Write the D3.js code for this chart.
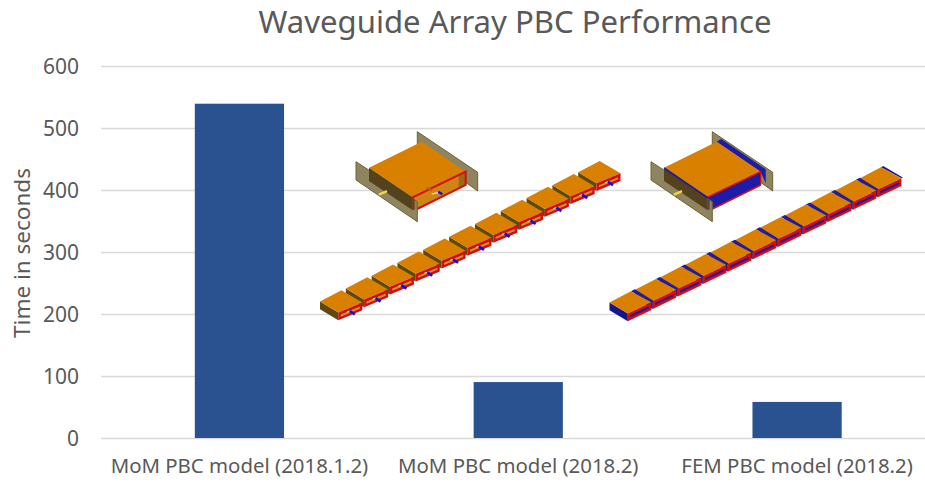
<!DOCTYPE html>
<html>
<head>
<meta charset="utf-8">
<script src="https://cdnjs.cloudflare.com/ajax/libs/d3/7.8.5/d3.min.js"></script>
<style>
html,body{margin:0;padding:0;background:#fff;overflow:hidden}
svg{display:block}
text{font-family:"Noto Sans","Open Sans",sans-serif;fill:#595959}
</style>
</head>
<body>
<svg id="chart" width="925" height="482"></svg>
<script>
const categories = ["MoM PBC model (2018.1.2)", "MoM PBC model (2018.2)", "FEM PBC model (2018.2)"];
const timeSeconds = [540, 91, 59];
const yTicks = [0, 100, 200, 300, 400, 500, 600];
const titleText = "Waveguide Array PBC Performance";
const yAxisLabel = "Time in seconds";
const arrayCellCount = 11;

const svg = d3.select("#chart");
const y = d3.scaleLinear().domain([0, 600]).range([438.5, 66.5]);
const x = d3.scaleBand().domain(categories).range([100, 936.5]).paddingInner(0.68).paddingOuter(0.34);

const yAxis = d3.axisLeft(y).tickValues(yTicks).tickSize(0).tickPadding(22);
const yG = svg.append("g").attr("transform", "translate(101,0)").call(yAxis);
yG.select(".domain").remove();
yG.selectAll("text").style("font-size", "21px").style("font-family", null);
svg.append("g").selectAll("line").data(yTicks).join("line")
  .attr("x1", 101).attr("x2", 925)
  .attr("y1", d => y(d)).attr("y2", d => y(d))
  .attr("stroke", "#d9d9d9").attr("stroke-width", 1.6);

svg.append("g").selectAll("rect").data(categories).join("rect")
  .attr("x", d => x(d)).attr("width", x.bandwidth())
  .attr("y", (d, i) => y(timeSeconds[i]))
  .attr("height", (d, i) => y(0) - y(timeSeconds[i]) - 0.5)
  .attr("fill", "#2a5190");

const xAxis = d3.axisBottom(x).tickSize(0).tickPadding(20);
const xG = svg.append("g").attr("transform", "translate(0,438.5)").call(xAxis);
xG.select(".domain").remove();
xG.selectAll("text").style("font-size", "20.4px").style("font-family", null);

svg.append("text").attr("x", 515).attr("y", 33).attr("text-anchor", "middle")
  .style("font-size", "31.1px").text(titleText);
svg.append("text").attr("transform", "translate(30,253) rotate(-90)").attr("text-anchor", "middle")
  .style("font-size", "22.5px").text(yAxisLabel);

const defs = svg.append("defs");
defs.append("filter").attr("id", "soft").append("feGaussianBlur").attr("stdDeviation", 0.5);
const art = svg.append("g").attr("filter", "url(#soft)");
const orange = "#d98000", red = "#d60d0d", blue = "#1a1aa8", olive = "#8f8460", dark = "#52431c", brown = "#5c4a12";
const path = d3.line();
const add = (p, d, s = 1) => [p[0] + d[0] * s, p[1] + d[1] * s];
const lerp = (a, b, t) => [a[0] + (b[0] - a[0]) * t, a[1] + (b[1] - a[1]) * t];
const poly = (pts, fill, stroke, sw) => art.append("path").attr("d", path(pts) + "Z")
  .attr("fill", fill).attr("stroke", stroke || "none").attr("stroke-width", sw || 0);
const seg = (a, b, stroke, sw) => art.append("path").attr("d", path([a, b]))
  .attr("fill", "none").attr("stroke", stroke).attr("stroke-width", sw);

function unitCell(o, isFem) {
  const L = o, T = add(o, [52.7, -26]), R = add(o, [96.7, 4]), B = add(o, [43.7, 29.6]);
  const R2 = add(R, [0, 13.3]), B2 = add(B, [2.6, 12.7]), L2 = add(L, [0, 13.2]);
  poly([add(o, [48.3, -36]), add(o, [108.7, 4.6]), add(o, [108.7, 23.3]), add(o, [48.3, -20])], olive, "#6e6230", 1);
  if (isFem) {
    poly([T, add(T, [4.5, -2.8]), add(R, [5, -2.5]), add(R, [5, 11.5]), R], blue);
    poly([L, T, R, B], orange);
    poly([B, R, R2, B2], blue);
    seg(B, R, red, 1.6); seg(B2, R2, red, 1.6);
    seg(R, R2, red, 1.2);
  } else {
    poly([L, T, R, B], orange);
    poly([B, R, R2, B2], "#cf8418");
    poly([add(R, [-7, 3]), R, R2, add(R2, [-7, 3.4])], "#9a6a14");
    poly([B, R, R2, B2], "none", red, 2);
    seg(add(o, [62.7, 26.3]), add(o, [69, 25]), "#f5efd0", 1.2);
    seg(add(o, [58, 20]), add(o, [63, 23]), "#a86c10", 2);
    seg(add(o, [69.3, 24]), add(o, [73.3, 26.6]), "#1010e0", 2.4);
  }
  poly([add(o, [-13, -6]), add(o, [48.3, 34]), add(o, [48.3, 54]), add(o, [-13, 12.3])], olive, "#6e6230", 1);
  poly([L, B, add(B, [0, 13]), L2], dark);
  seg(add(B, [1, 2]), add(B, [1, 12.5]), isFem ? "#5a3a60" : "#8c2c14", 1.8);
  if (isFem) seg(add(L, [0, 0.4]), add(B, [0, 0.4]), blue, 1.8);
  seg(add(o, [9.8, 27]), add(o, [18, 23.4]), "#f0d848", 2.4);
}

function arrayModel(tip, step, isFem, n) {
  const topU = [21.4, -11.2], topV = [18.3, 11], frontU = isFem ? [23.6, -11.3] : [24, -10], depth = [0, 7.8];
  for (let i = n - 1; i >= 0; i--) {
    const L = add(tip, step, i);
    const T = add(L, topU), B = add(L, topV), R = add(B, frontU);
    const B2 = add(B, depth), R2 = add(R, depth), L2 = add(L, depth);
    poly([L, B, B2, L2], isFem ? "#15158c" : brown);
    if (isFem) {
      const g = i === n - 1 ? [2.4, -1.2] : [4, -2];
      poly([T, add(T, g), add(R, g, 0.6), R], blue);
    }
    poly([L, T, R, B], orange);
    poly([B, R, R2, B2], red);
    const band = t => [lerp(B, B2, t), lerp(R, R2, t)];
    const [a1, b1] = band(0.38), [a2, b2] = band(0.66);
    poly([lerp(a1, b1, 0.1), lerp(a1, b1, 0.9), lerp(a2, b2, 0.9), lerp(a2, b2, 0.1)], isFem ? blue : "#c89438");
    if (!isFem) {
      const m = lerp(B, R, 0.5);
      seg(add(m, [-3.5, 4.5]), add(m, [-0.5, 3.6]), "#f8f0d0", 1);
      seg(add(m, [-0.5, 3.5]), add(m, [4.5, 7]), "#0c10e8", 2.6);
    }
  }
}

arrayModel([320, 301.5], [25.82, -12.93], false, arrayCellCount);
arrayModel([609.5, 302.5], [25, -12.4], true, arrayCellCount);
unitCell([369, 167.7], false);
unitCell([664, 167.7], true);
</script>
</body>
</html>
